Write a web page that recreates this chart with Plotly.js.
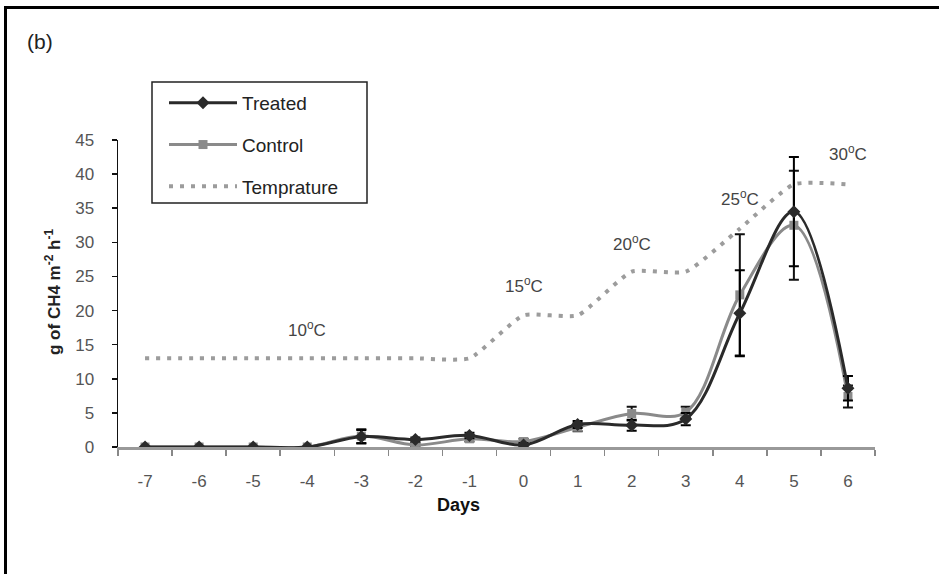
<!DOCTYPE html>
<html>
<head>
<meta charset="utf-8">
<script src="https://cdn.plot.ly/plotly-3.0.1.min.js"></script>
<style>
  html, body { margin: 0; padding: 0; background: #fff; }
  #wrap { position: relative; width: 939px; height: 574px; overflow: hidden; }
  #chart { position: absolute; left: 0; top: 0; width: 939px; height: 574px; }
  #frame { position: absolute; left: 4px; top: 6px; width: 960px; height: 600px;
           border-top: 3px solid #000; border-left: 3px solid #000; pointer-events: none; }
</style>
</head>
<body>
<div id="wrap"><div id="chart"></div><div id="frame"></div></div>
<script>
// ---- data ----
const days = ["-7", "-6", "-5", "-4", "-3", "-2", "-1", "0", "1", "2", "3", "4", "5", "6"];
const treated    = [0, 0, 0, 0, 1.5, 1.1, 1.7, 0.3, 3.3, 3.2, 4.1, 19.6, 34.5, 8.6];
const treatedErr = [0, 0, 0, 0, 1.0, 0.3, 0.4, 0.3, 0.5, 0.8, 0.9, 6.3, 8.0, 1.8];
const control    = [0, 0, 0, 0, 1.6, 0.3, 1.2, 0.8, 2.9, 4.9, 5.1, 22.3, 32.5, 7.4];
const controlErr = [0, 0, 0, 0, 1.0, 0.3, 0.4, 0.4, 0.6, 1.0, 0.8, 8.9, 8.0, 1.6];
const temperature = [13, 13, 13, 13, 13, 13, 13, 19.3, 19.3, 25.7, 25.7, 32, 38.5, 38.5];
const tempLabels = ["10<sup>o</sup>C", "15<sup>o</sup>C", "20<sup>o</sup>C", "25<sup>o</sup>C", "30<sup>o</sup>C"];
const tempLabelDays = ["-4", "0", "2", "4", "6"];
const tempLabelY = [17.3, 23.8, 29.9, 36.5, 43.1];

const FONT = "Arial, 'Liberation Sans', sans-serif";

// plot-area pixel geometry (used only to place paper-referenced items)
const L = 118, R = 875, T = 140, B = 447;
const px = v => (v - L) / (R - L);
const py = v => (B - v) / (B - T);

const traces = [
  {
    name: "Temprature", x: days, y: temperature, type: "scatter", mode: "lines",
    line: { color: "#9c9c9c", width: 4, dash: "4px,7px", shape: "spline", smoothing: 0.5 },
    legendgroup: "c", legendrank: 3, hoverinfo: "skip"
  },
  {
    name: "Control", x: days, y: control, type: "scatter", mode: "lines+markers",
    line: { color: "#8a8a8a", width: 3, shape: "spline", smoothing: 1 },
    marker: { symbol: "square", size: 9, color: "#8a8a8a" },
    error_y: { type: "data", array: controlErr, visible: true, color: "#111", thickness: 2, width: 5 },
    legendgroup: "b", legendrank: 2
  },
  {
    name: "Treated", x: days, y: treated, type: "scatter", mode: "lines+markers",
    line: { color: "#2a2a2a", width: 3, shape: "spline", smoothing: 1 },
    marker: { symbol: "diamond", size: 10, color: "#2a2a2a" },
    error_y: { type: "data", array: treatedErr, visible: true, color: "#000", thickness: 2, width: 5 },
    legendgroup: "a", legendrank: 1
  }
];

const annotations = tempLabels.map((t, i) => ({
  x: days.indexOf(tempLabelDays[i]), y: tempLabelY[i], xref: "x", yref: "y", text: t,
  showarrow: false, font: { family: FONT, size: 17, color: "#444" }
}));
annotations.push({
  x: px(25), y: py(41), xref: "paper", yref: "paper", xanchor: "left", yanchor: "middle",
  text: "(b)", showarrow: false, font: { family: FONT, size: 21, color: "#222" }
});
annotations.push({
  x: px(458), y: py(517), xref: "paper", yref: "paper", text: "<b>Days</b>", showarrow: false,
  font: { family: FONT, size: 18, color: "#111" }
});
annotations.push({
  x: px(40), y: py(292), xref: "paper", yref: "paper", textangle: -90,
  text: "<b>g of CH4 m<sup>-2</sup> h<sup>-1</sup></b>", showarrow: false,
  font: { family: FONT, size: 17, color: "#222" }
});

const layout = {
  width: 939, height: 574,
  margin: { l: L, r: 939 - R, t: T, b: 574 - B },
  paper_bgcolor: "#fff", plot_bgcolor: "#fff",
  font: { family: FONT, size: 17, color: "#555" },
  showlegend: true,
  legend: {
    x: px(164), y: py(84), xanchor: "left", yanchor: "top",
    bgcolor: "rgba(0,0,0,0)", borderwidth: 0,
    font: { family: FONT, size: 19, color: "#222" },
    tracegroupgap: 14, itemwidth: 68, traceorder: "grouped"
  },
  shapes: [{
    type: "rect", xref: "paper", yref: "paper",
    x0: px(152), x1: px(367), y0: py(203), y1: py(82),
    line: { color: "#222", width: 1.5 }, fillcolor: "rgba(0,0,0,0)"
  }],
  xaxis: {
    type: "category", range: [-0.5, 13.5], tickson: "boundaries", ticks: "outside",
    ticklen: 6, tickwidth: 1.5, tickcolor: "#888", showline: true, linecolor: "#999", linewidth: 2.5,
    showgrid: false, zeroline: false, ticklabelstandoff: 17,
    tickfont: { family: FONT, size: 17, color: "#555" }
  },
  yaxis: {
    range: [0, 45], dtick: 5, ticks: "outside", ticklen: 5, tickwidth: 1.5, tickcolor: "#111",
    showline: true, linecolor: "#111", linewidth: 1.5, showgrid: false, zeroline: false,
    ticklabelstandoff: 14, tickfont: { family: FONT, size: 17, color: "#555" }
  },
  annotations: annotations
};

Plotly.newPlot("chart", traces, layout, { displayModeBar: false, staticPlot: true });
</script>
</body>
</html>
